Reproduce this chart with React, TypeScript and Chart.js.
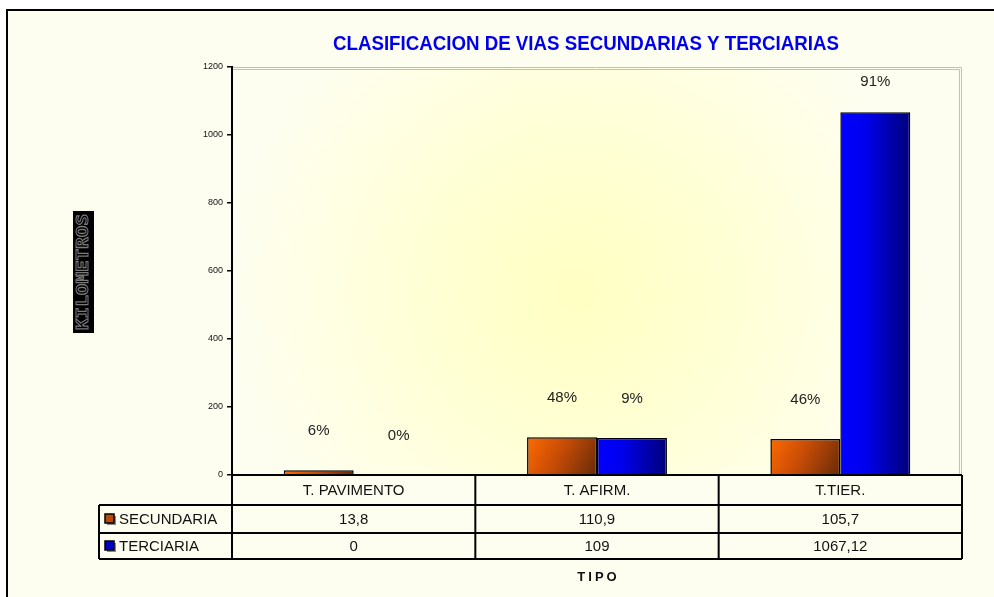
import React, { useEffect, useRef } from "react";
import { Chart, registerables } from "chart.js";

Chart.register(...registerables);

const categories = ["T. PAVIMENTO", "T. AFIRM.", "T.TIER."];
const secundaria = [13.8, 110.9, 105.7];
const terciaria = [0, 109, 1067.12];
const secundariaText = ["13,8", "110,9", "105,7"];
const terciariaText = ["0", "109", "1067,12"];
const secundariaPct = ["6%", "48%", "46%"];
const terciariaPct = ["0%", "9%", "91%"];
const seriesNames = ["SECUNDARIA", "TERCIARIA"];
const titleText = "CLASIFICACION DE VIAS SECUNDARIAS Y TERCIARIAS";
const yTitle = "KILOMETROS";
const xTitle = "TIPO";
const yMax = 1200;
const yStep = 200;

const CAT_PCT = 0.575;
const FONT = "'Liberation Sans', Arial, sans-serif";

function barGeom(chart: any, datasetIndex: number, dataIndex: number, value: number) {
  const xs = chart.scales.x;
  const ys = chart.scales.y;
  const catW = xs.width / categories.length;
  const bw = (catW * CAT_PCT) / 2;
  const c = xs.getPixelForValue(dataIndex);
  const left = c - bw + datasetIndex * bw;
  return { left, right: left + bw, top: ys.getPixelForValue(value), bottom: ys.getPixelForValue(0), center: left + bw / 2 };
}

function makeFill(kind: number) {
  return (ctx: any) => {
    const fallback = kind === 0 ? "#c04a08" : "#0000c0";
    const chart = ctx.chart;
    if (!chart.scales || !chart.scales.x || !chart.scales.y || ctx.dataIndex === undefined) return fallback;
    const v = ctx.dataset.data[ctx.dataIndex];
    const g = barGeom(chart, kind, ctx.dataIndex, v);
    if (![g.left, g.right, g.top, g.bottom].every((n) => Number.isFinite(n)) || g.right - g.left <= 0) return fallback;
    const c2 = chart.ctx;
    if (kind === 0) {
      const gr = c2.createLinearGradient(g.left, g.top, g.right, Math.max(g.bottom, g.top + 1));
      gr.addColorStop(0, "#ff6a00");
      gr.addColorStop(0.45, "#c84c06");
      gr.addColorStop(1, "#662a08");
      return gr;
    }
    const gr = c2.createLinearGradient(g.left, 0, g.right, 0);
    gr.addColorStop(0, "#0000ff");
    gr.addColorStop(0.35, "#0000ee");
    gr.addColorStop(1, "#00007a");
    return gr;
  };
}

const bgPlugin = {
  id: "bgPlugin",
  beforeDraw(chart: any) {
    const ctx = chart.ctx;
    const { left, right, top, bottom } = chart.chartArea;
    ctx.save();
    ctx.fillStyle = "#ffffff";
    ctx.fillRect(0, 0, chart.width, chart.height);
    ctx.fillStyle = "#fefef0";
    ctx.fillRect(7, 10, chart.width - 7, chart.height - 10);
    ctx.strokeStyle = "#000";
    ctx.lineWidth = 2;
    ctx.beginPath();
    ctx.moveTo(7, chart.height + 5);
    ctx.lineTo(7, 10);
    ctx.lineTo(chart.width + 5, 10);
    ctx.stroke();
    const cx = (left + right) / 2 - 20;
    const cy = (top + bottom) / 2 + 20;
    const rg = ctx.createRadialGradient(cx, cy, 10, cx, cy, 340);
    rg.addColorStop(0, "#ffffc4");
    rg.addColorStop(0.5, "#ffffd8");
    rg.addColorStop(1, "#fefef0");
    ctx.fillStyle = rg;
    ctx.fillRect(left, top, right - left, bottom - top);
    ctx.strokeStyle = "#c0c0c0";
    ctx.lineWidth = 1;
    ctx.beginPath();
    ctx.moveTo(left, top + 0.5);
    ctx.lineTo(right - 0.5, top + 0.5);
    ctx.lineTo(right - 0.5, bottom);
    ctx.moveTo(left, top + 2.5);
    ctx.lineTo(right - 2.5, top + 2.5);
    ctx.lineTo(right - 2.5, bottom);
    ctx.stroke();
    ctx.restore();
  },
  afterDraw(chart: any) {
    const ctx = chart.ctx;
    const xs = chart.scales.x;
    const { left, right, top, bottom } = chart.chartArea;
    ctx.save();
    ctx.font = `bold 21px 'Liberation Sans Narrow', 'Arial Narrow', ${FONT}`;
    const tw = ctx.measureText(titleText).width;
    const targetW = 506;
    ctx.translate(586, 44);
    ctx.scale(targetW / tw, 1);
    ctx.fillStyle = "#0000ee";
    ctx.textAlign = "center";
    ctx.textBaseline = "middle";
    ctx.fillText(titleText, 0, 0);
    ctx.setTransform(1, 0, 0, 1, 0, 0);

    ctx.fillStyle = "#000";
    ctx.fillRect(73, 211, 21, 122);
    ctx.save();
    ctx.translate(83.5, 272);
    ctx.rotate(-Math.PI / 2);
    ctx.font = `bold 15px 'DejaVu Sans Mono', monospace`;
    const yw = ctx.measureText(yTitle).width;
    ctx.scale(116 / yw, 1);
    ctx.textAlign = "center";
    ctx.textBaseline = "middle";
    ctx.strokeStyle = "#7a7a7a";
    ctx.lineWidth = 1;
    ctx.strokeText(yTitle, 0, 1);
    ctx.restore();

    ctx.font = `15px ${FONT}`;
    ctx.fillStyle = "#222";
    ctx.textAlign = "center";
    ctx.textBaseline = "middle";
    const pcts = [secundariaPct, terciariaPct];
    const vals = [secundaria, terciaria];
    for (let d = 0; d < 2; d++) {
      for (let i = 0; i < categories.length; i++) {
        const g = barGeom(chart, d, i, vals[d][i]);
        const y = Math.max(top + 15, g.top - 39);
        ctx.fillText(pcts[d][i], g.center + (d === 1 && i === 0 ? 10 : 0), y);
      }
    }

    const tableLeft = 99;
    const rowH = [30, 28, 26];
    const y0 = bottom;
    const y1 = y0 + rowH[0];
    const y2 = y1 + rowH[1];
    const y3 = y2 + rowH[2];
    const catW = xs.width / categories.length;
    ctx.strokeStyle = "#000";
    ctx.lineWidth = 2;
    ctx.beginPath();
    ctx.moveTo(left, y0);
    ctx.lineTo(right, y0);
    ctx.moveTo(tableLeft, y1);
    ctx.lineTo(right, y1);
    ctx.moveTo(tableLeft, y2);
    ctx.lineTo(right, y2);
    ctx.moveTo(tableLeft, y3);
    ctx.lineTo(right, y3);
    ctx.moveTo(tableLeft, y1);
    ctx.lineTo(tableLeft, y3);
    for (let i = 0; i <= categories.length; i++) {
      const x = left + i * catW;
      ctx.moveTo(x, i === 0 ? top : y0);
      ctx.lineTo(x, y3);
    }
    ctx.stroke();

    ctx.fillStyle = "#111";
    ctx.font = `15px ${FONT}`;
    ctx.textAlign = "center";
    ctx.textBaseline = "middle";
    for (let i = 0; i < categories.length; i++) {
      const cx = xs.getPixelForValue(i);
      ctx.fillText(categories[i], cx, (y0 + y1) / 2 + 1);
      ctx.fillText(secundariaText[i], cx, (y1 + y2) / 2 + 1);
      ctx.fillText(terciariaText[i], cx, (y2 + y3) / 2 + 1);
    }
    ctx.textAlign = "left";
    ctx.fillText(seriesNames[0], 119, (y1 + y2) / 2 + 1);
    ctx.fillText(seriesNames[1], 119, (y2 + y3) / 2 + 1);

    const keyFill = ["#b84a0a", "#0000c0"];
    const keyY = [(y1 + y2) / 2 - 4, (y2 + y3) / 2 - 4];
    for (let d = 0; d < 2; d++) {
      ctx.fillStyle = "#888";
      ctx.fillRect(107, keyY[d] + 1, 9, 9);
      ctx.fillStyle = keyFill[d];
      ctx.fillRect(105, keyY[d] - 1, 9, 9);
      ctx.strokeStyle = "#000";
      ctx.lineWidth = 1.5;
      ctx.strokeRect(105, keyY[d] - 1, 9, 9);
    }

    ctx.fillStyle = "#111";
    ctx.font = `bold 13px ${FONT}`;
    ctx.textBaseline = "middle";
    const chars = xTitle.split("");
    const spacing = 3;
    const widths = chars.map((c) => ctx.measureText(c).width);
    const total = widths.reduce((a, b) => a + b, 0) + spacing * (chars.length - 1);
    let x = (left + right) / 2 - total / 2;
    ctx.textAlign = "left";
    for (let i = 0; i < chars.length; i++) {
      ctx.fillText(chars[i], x, 577);
      x += widths[i] + spacing;
    }
    ctx.restore();
  },
};

export default function App() {
  const ref = useRef<HTMLCanvasElement>(null);
  useEffect(() => {
    const canvas = ref.current;
    if (!canvas) return;
    const chart = new Chart(canvas, {
      type: "bar",
      data: {
        labels: categories,
        datasets: [
          {
            label: seriesNames[0],
            data: secundaria,
            backgroundColor: makeFill(0),
            borderColor: "#000",
            borderWidth: 1.5,
            categoryPercentage: CAT_PCT,
            barPercentage: 1,
          },
          {
            label: seriesNames[1],
            data: terciaria,
            backgroundColor: makeFill(1),
            borderColor: "#000",
            borderWidth: 1.5,
            categoryPercentage: CAT_PCT,
            barPercentage: 1,
          },
        ],
      },
      options: {
        responsive: false,
        animation: false,
        devicePixelRatio: 1,
        layout: { padding: { left: 0, top: 67, right: 32, bottom: 122 } },
        plugins: { legend: { display: false }, tooltip: { enabled: false }, title: { display: false } },
        scales: {
          x: { display: false },
          y: {
            min: 0,
            max: yMax,
            ticks: {
              stepSize: yStep,
              font: { size: 9, family: FONT },
              color: "#111",
              padding: 4,
              callback: (v: any) => String(v),
            },
            grid: { drawOnChartArea: false, drawTicks: true, tickLength: 5, color: "#000", lineWidth: 1.5 },
            border: { display: true, color: "#000", width: 2 },
            afterFit: (scale: any) => {
              scale.width = 232;
            },
          },
        },
      },
      plugins: [bgPlugin],
    });
    return () => chart.destroy();
  }, []);
  return (
    <div style={{ position: "fixed", left: 0, top: 0, width: 994, height: 597 }}>
      <canvas ref={ref} width={994} height={597} style={{ display: "block" }} />
    </div>
  );
}
